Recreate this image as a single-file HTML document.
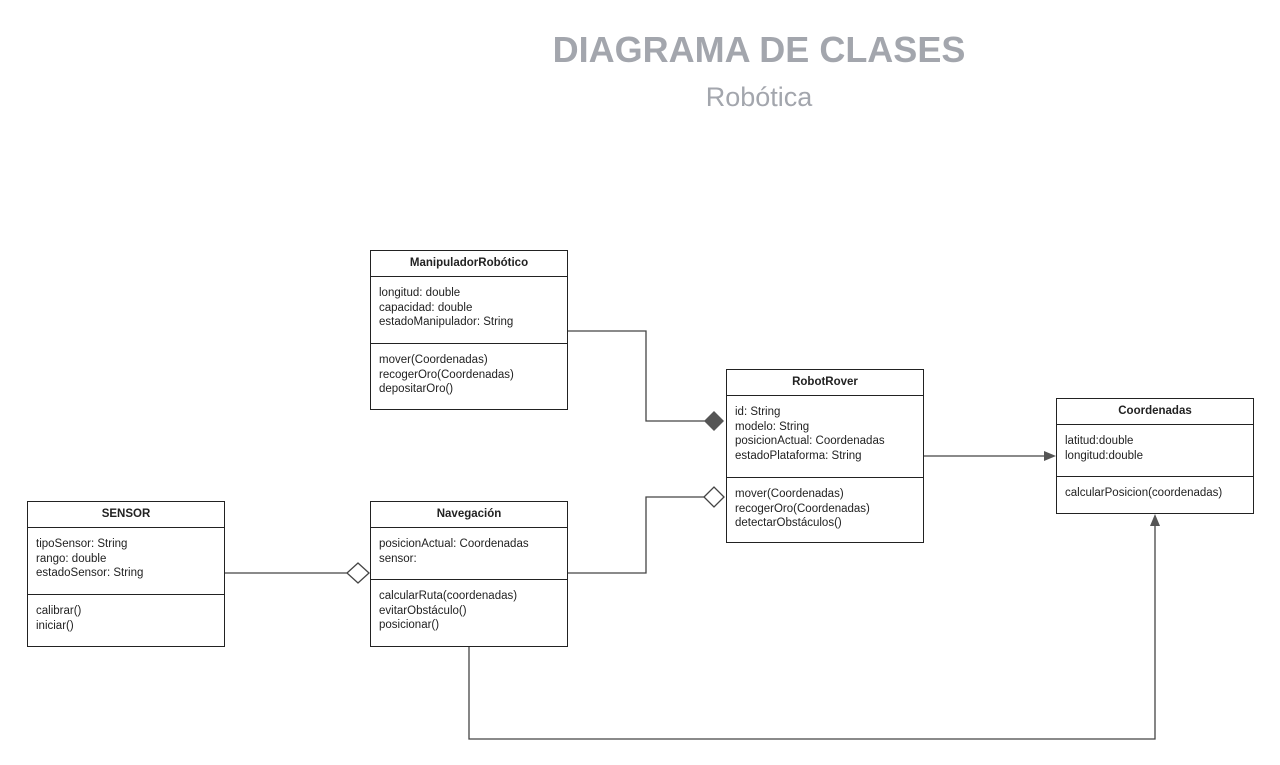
<!DOCTYPE html>
<html><head><meta charset="utf-8"><style>
body{margin:0;width:1280px;height:765px;background:#fff;position:relative;font-family:"Liberation Sans",sans-serif;overflow:hidden}
.t{position:absolute;color:#a3a6ad;text-align:center;width:600px;left:459px}
.b{position:absolute;border:1.5px solid #222;background:#fff;box-sizing:border-box;font-size:11.5px;color:#222}
.h{font-weight:bold;text-align:center;border-bottom:1.5px solid #222;box-sizing:border-box;padding-top:6px}
.s{padding:9px 0 0 8px;line-height:14.5px;box-sizing:border-box}
.d{border-bottom:1.5px solid #222}
svg{position:absolute;left:0;top:0}
</style></head><body>
<div class="t" style="top:29px;font-size:36px;font-weight:bold">DIAGRAMA DE CLASES</div>
<div class="t" style="top:82px;font-size:27px">Robótica</div>
<svg width="1280" height="765">
<g fill="none" stroke="#444" stroke-width="1.3">
<path d="M567 331H646V421H705"/>
<path d="M567 573H646V497H705"/>
<path d="M224 573H348"/>
<path d="M923 456H1046"/>
<path d="M469 646V739H1155V525"/>
</g>
<polygon points="704,421 714,411 724,421 714,431" fill="#555"/>
<polygon points="704,497 714,487 724,497 714,507" fill="#fff" stroke="#444" stroke-width="1.3"/>
<polygon points="347,573 358,563 369,573 358,583" fill="#fff" stroke="#444" stroke-width="1.3"/>
<polygon points="1056,456 1044,451 1044,461" fill="#555"/>
<polygon points="1155,514 1150,526 1160,526" fill="#555"/>
</svg>
<div class="b" style="left:370px;top:250px;width:198px;height:160px">
<div class="h" style="height:26px">ManipuladorRobótico</div>
<div class="s d" style="height:67px">longitud: double<br>capacidad: double<br>estadoManipulador: String</div>
<div class="s">mover(Coordenadas)<br>recogerOro(Coordenadas)<br>depositarOro()</div></div>
<div class="b" style="left:726px;top:369px;width:198px;height:174px">
<div class="h" style="height:26px">RobotRover</div>
<div class="s d" style="height:82px">id: String<br>modelo: String<br>posicionActual: Coordenadas<br>estadoPlataforma: String</div>
<div class="s">mover(Coordenadas)<br>recogerOro(Coordenadas)<br>detectarObstáculos()</div></div>
<div class="b" style="left:1056px;top:398px;width:198px;height:116px">
<div class="h" style="height:26px">Coordenadas</div>
<div class="s d" style="height:52px">latitud:double<br>longitud:double</div>
<div class="s">calcularPosicion(coordenadas)</div></div>
<div class="b" style="left:27px;top:501px;width:198px;height:146px">
<div class="h" style="height:26px">SENSOR</div>
<div class="s d" style="height:67px">tipoSensor: String<br>rango: double<br>estadoSensor: String</div>
<div class="s">calibrar()<br>iniciar()</div></div>
<div class="b" style="left:370px;top:501px;width:198px;height:146px">
<div class="h" style="height:26px">Navegación</div>
<div class="s d" style="height:52px">posicionActual: Coordenadas<br>sensor:</div>
<div class="s">calcularRuta(coordenadas)<br>evitarObstáculo()<br>posicionar()</div></div>
</body></html>
